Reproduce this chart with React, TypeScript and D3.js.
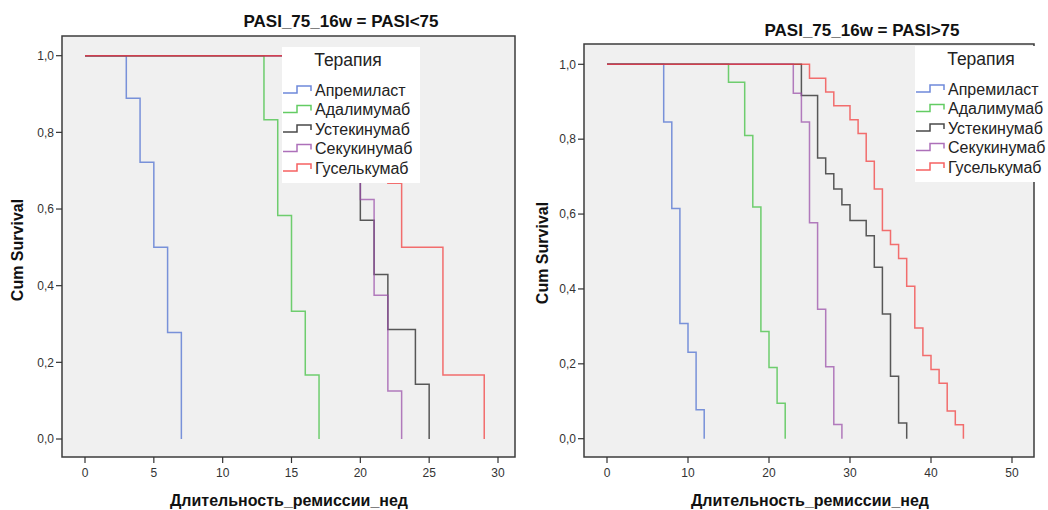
import * as d3 from "d3";

const width = 1048;
const height = 510;
const font = "Arial, 'Liberation Sans', sans-serif";

const therapies = ["Апремиласт", "Адалимумаб", "Устекинумаб", "Секукинумаб", "Гуселькумаб"];
const colors = ["#4a6cd0", "#3cbf3c", "#1c1c1c", "#984ca8", "#f23a3a"];

// [week, cum survival] after each drop - PASI<75
const lowApremilast = [[3, 0.889], [4, 0.722], [5, 0.5], [6, 0.278], [7, 0]];
const lowAdalimumab = [[13, 0.833], [14, 0.583], [15, 0.333], [16, 0.167], [17, 0]];
const lowUstekinumab = [[20, 0.571], [21, 0.429], [22, 0.286], [24, 0.143], [25, 0]];
const lowSecukinumab = [[20, 0.625], [21, 0.375], [22, 0.125], [23, 0]];
const lowGuselkumab = [[21, 0.833], [22, 0.667], [23, 0.5], [26, 0.167], [29, 0]];

// PASI>75
const highApremilast = [[7, 0.846], [8, 0.615], [9, 0.308], [10, 0.231], [11, 0.077], [12, 0]];
const highAdalimumab = [[15, 0.952], [17, 0.81], [18, 0.619], [19, 0.286], [20, 0.19], [21, 0.095], [22, 0]];
const highUstekinumab = [[24, 0.917], [26, 0.75], [27, 0.708], [28, 0.667], [29, 0.625], [30, 0.583], [32, 0.542], [33, 0.458], [34, 0.333], [35, 0.167], [36, 0.042], [37, 0]];
const highSecukinumab = [[23, 0.923], [24, 0.846], [25, 0.577], [26, 0.346], [27, 0.192], [28, 0.038], [29, 0]];
const highGuselkumab = [[25, 0.963], [27, 0.926], [28, 0.889], [30, 0.852], [31, 0.815], [32, 0.741], [33, 0.667], [34, 0.556], [35, 0.519], [36, 0.481], [37, 0.407], [38, 0.296], [39, 0.222], [40, 0.185], [41, 0.148], [42, 0.074], [43, 0.037], [44, 0]];

const yTicks = [0, 0.2, 0.4, 0.6, 0.8, 1];
const xTitle = "Длительность_ремиссии_нед";

const panels = [
  {
    title: "PASI_75_16w = PASI<75", titleX: 341, titleY: 27,
    frame: { x0: 62, y0: 36, x1: 515, y1: 457 },
    xDomain: [0, 30], xRange: [85, 498], xTicks: [0, 5, 10, 15, 20, 25, 30],
    yRange: [439, 55.7], yTitleX: 17, yTitleY: 250, xTitleX: 289,
    legend: { x: 282, y: 47, w: 138 },
    series: [lowApremilast, lowAdalimumab, lowUstekinumab, lowSecukinumab, lowGuselkumab],
  },
  {
    title: "PASI_75_16w = PASI>75", titleX: 862, titleY: 36,
    frame: { x0: 584, y0: 44, x1: 1034, y1: 457 },
    xDomain: [0, 50], xRange: [607, 1012], xTicks: [0, 10, 20, 30, 40, 50],
    yRange: [438.7, 64.3], yTitleX: 542, yTitleY: 253, xTitleX: 810,
    legend: { x: 915, y: 46, w: 140 },
    series: [highApremilast, highAdalimumab, highUstekinumab, highSecukinumab, highGuselkumab],
  },
];

const fmt = (v) => d3.format(".1f")(v).replace(".", ",");

function Panel({ p }) {
  const xScale = d3.scaleLinear().domain(p.xDomain).range(p.xRange);
  const yScale = d3.scaleLinear().domain([0, 1]).range(p.yRange);
  const line = d3.line()
    .x((d) => xScale(d[0]))
    .y((d) => yScale(d[1]))
    .curve(d3.curveStepAfter);
  const f = p.frame;
  const lg = p.legend;

  return (
    <g>
      <text x={p.titleX} y={p.titleY} textAnchor="middle" fontWeight="bold" fontSize={17} fill="#111">
        {p.title}
      </text>
      <rect x={f.x0} y={f.y0} width={f.x1 - f.x0} height={f.y1 - f.y0} fill="#f0f0f0" stroke="#3c3c3c" strokeWidth={1.5} />

      {yTicks.map((v, i) => (
        <g key={i}>
          <line x1={f.x0 - 6} x2={f.x0} y1={yScale(v)} y2={yScale(v)} stroke="#333" strokeWidth={1.2} />
          <text x={f.x0 - 8} y={yScale(v)} dy="0.35em" textAnchor="end" fontSize={12} fill="#333">
            {fmt(v)}
          </text>
        </g>
      ))}
      {p.xTicks.map((v, i) => (
        <g key={i}>
          <line x1={xScale(v)} x2={xScale(v)} y1={f.y1} y2={f.y1 + 6} stroke="#333" strokeWidth={1.2} />
          <text x={xScale(v)} y={f.y1 + 20} textAnchor="middle" fontSize={12} fill="#333">
            {v}
          </text>
        </g>
      ))}

      {p.series.map((s, i) => (
        <path
          key={i}
          d={line([[0, 1], ...s])}
          fill="none"
          stroke={colors[i]}
          strokeOpacity={0.72}
          strokeWidth={1.5}
        />
      ))}

      <rect x={lg.x} y={lg.y} width={lg.w} height={136} fill="#fff" />
      <text x={lg.x + 66} y={lg.y + 19} textAnchor="middle" fontSize={17.5} fill="#222">
        Терапия
      </text>
      {therapies.map((t, i) => {
        const cy = lg.y + 43 + i * 19.5;
        return (
          <g key={i}>
            <path
              d={`M${lg.x + 1},${cy + 3}H${lg.x + 15}V${cy - 4}H${lg.x + 29}V${cy + 1}`}
              fill="none"
              stroke={colors[i]}
              strokeOpacity={0.8}
              strokeWidth={1.5}
            />
            <text x={lg.x + 33} y={cy} dy="0.36em" fontSize={16} fill="#222">
              {t}
            </text>
          </g>
        );
      })}

      <text
        transform={`translate(${p.yTitleX},${p.yTitleY}) rotate(-90)`}
        dy="0.35em"
        textAnchor="middle"
        fontWeight="bold"
        fontSize={16}
        fill="#111"
      >
        Cum Survival
      </text>
      <text x={p.xTitleX} y={506} textAnchor="middle" fontWeight="bold" fontSize={16} fill="#111">
        {xTitle}
      </text>
    </g>
  );
}

export default function App() {
  return (
    <svg
      width={width}
      height={height}
      style={{ position: "absolute", left: 0, top: 0, background: "#fff" }}
      fontFamily={font}
    >
      {panels.map((p, i) => (
        <Panel key={i} p={p} />
      ))}
    </svg>
  );
}
